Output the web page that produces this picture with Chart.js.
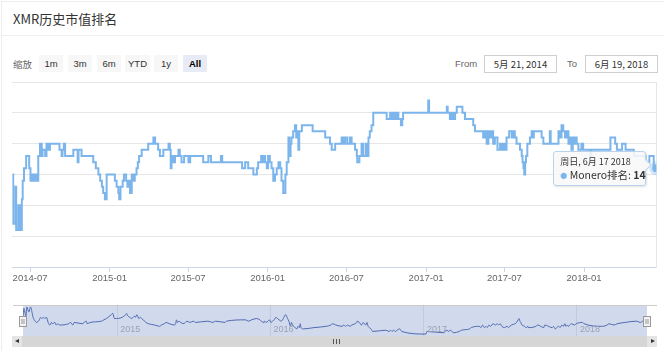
<!DOCTYPE html>
<html>
<head>
<meta charset="utf-8">
<script src="https://cdn.jsdelivr.net/npm/chart.js@4.4.1/dist/chart.umd.min.js"></script>
<style>
body { margin:0; width:664px; height:351px; overflow:hidden; background:#fff; position:relative;
  font-family:"Liberation Sans","Noto Sans CJK SC",Arial,sans-serif; }
.abs { position:absolute; }
#card { left:1px; top:1px; width:663px; height:350px; border-left:1px solid #ededed; border-top:1px solid #ededed; }
#title { left:13px; top:9px; font-size:13px; font-family:"Noto Sans CJK SC",sans-serif; color:#333; line-height:20px; }
#sep { left:2px; top:35px; width:662px; height:1px; background:#efefef; }
.lbl { top:56px; font-size:9.5px; color:#666; line-height:16px; }
.btn { top:55px; height:17px; width:24px; background:#f7f7f7; color:#333; font-size:9.5px; line-height:17px; text-align:center; }
.btn.on { background:#e6ebf5; font-weight:bold; color:#000; }
.inp { top:55px; height:16px; width:71px; border:1px solid #cfcfcf; font-size:9.5px; color:#333; line-height:16px;
  text-align:center; font-family:"Noto Sans CJK SC",sans-serif; }
#tip { position:absolute; display:none; width:93px; height:35px; box-sizing:border-box; padding:4px 0 0 6px;
  background:rgba(248,248,248,0.88); border:1px solid #b9d3ec; border-radius:3px;
  box-shadow:1px 1px 2px rgba(0,0,0,0.12); font-family:"Noto Sans CJK SC",sans-serif; color:#333; }
#tip .t1 { font-size:9px; line-height:12px; white-space:nowrap; }
#tip .t2 { font-size:10.5px; line-height:13px; white-space:nowrap; }
#tip .dot { color:#7cb5ec; font-size:7px; vertical-align:1px; }
#tip:after { content:""; position:absolute; right:-5px; top:9px; width:7px; height:7px; background:rgba(248,248,248,1);
  border-right:1px solid #b9d3ec; border-top:1px solid #b9d3ec; transform:rotate(45deg); }
#scroll { left:12px; top:336px; width:645px; height:11px; background:#d6d6d6; }
.sbtn { top:336px; width:10px; height:11px; background:#e4e4e4; }
.tri { position:absolute; top:3px; width:0; height:0; border-top:2.5px solid transparent; border-bottom:2.5px solid transparent; }
#grip { left:333px; top:339px; width:5px; height:5px; border-left:1px solid #555; border-right:1px solid #555; }
#grip:after { content:""; position:absolute; left:2px; top:0; width:1px; height:5px; background:#555; }
</style>
</head>
<body>
<div id="card" class="abs"></div>
<div id="title" class="abs">XMR历史市值排名</div>
<div id="sep" class="abs"></div>

<div class="abs lbl" style="left:13px;font-family:'Noto Sans CJK SC',sans-serif;">缩放</div>
<div class="abs btn" style="left:39px;">1m</div>
<div class="abs btn" style="left:68px;">3m</div>
<div class="abs btn" style="left:97px;">6m</div>
<div class="abs btn" style="left:125px;width:25px;">YTD</div>
<div class="abs btn" style="left:154px;">1y</div>
<div class="abs btn on" style="left:183px;">All</div>

<div class="abs lbl" style="left:455px;">From</div>
<div class="abs inp" style="left:484px;">5月 21, 2014</div>
<div class="abs lbl" style="left:567px;">To</div>
<div class="abs inp" style="left:585px;">6月 19, 2018</div>

<canvas id="main" class="abs" width="664" height="214" style="left:0;top:76px;"></canvas>
<canvas id="nav" class="abs" width="664" height="36" style="left:0;top:300px;"></canvas>

<div id="scroll" class="abs"></div>
<div class="abs sbtn" style="left:12px;"><div class="tri" style="left:3px;border-right:4px solid #333;"></div></div>
<div class="abs sbtn" style="left:647px;"><div class="tri" style="left:4px;border-left:4px solid #333;"></div></div>
<div id="grip" class="abs"></div>
<div id="tip"></div>

<script>
// Monero market-cap rank, one entry per change of rank
const dates = [
  '2014-05-21','2014-05-23','2014-05-28','2014-05-30','2014-06-04','2014-06-08','2014-06-12','2014-06-14','2014-06-17','2014-06-22','2014-06-29',
  '2014-07-02','2014-07-05','2014-07-09','2014-07-12','2014-07-16','2014-07-20','2014-07-24','2014-07-28','2014-07-30',
  '2014-08-05','2014-08-08','2014-08-12','2014-08-16','2014-09-07','2014-09-12','2014-09-14','2014-09-17','2014-09-20',
  '2014-10-09','2014-10-19','2014-10-21','2014-10-28','2014-11-24','2014-11-30',
  '2014-12-06','2014-12-10','2014-12-14','2014-12-17','2014-12-21','2014-12-25',
  '2015-01-13','2015-01-17','2015-01-21','2015-01-23','2015-01-26','2015-01-31','2015-02-03','2015-02-08','2015-02-11','2015-02-13',
  '2015-02-17','2015-02-21','2015-02-25','2015-02-28','2015-03-04','2015-03-07','2015-03-10','2015-03-16','2015-03-31',
  '2015-04-12','2015-04-16','2015-04-23','2015-04-27','2015-05-05','2015-05-17','2015-05-20','2015-05-22','2015-05-24','2015-05-28',
  '2015-06-01','2015-06-09','2015-06-12','2015-06-16','2015-06-22','2015-07-02','2015-07-06','2015-08-05','2015-08-17','2015-08-23',
  '2015-09-15','2015-09-18','2015-11-03','2015-11-10','2015-11-17','2015-11-29','2015-12-07','2015-12-10','2015-12-17','2015-12-18',
  '2015-12-22','2015-12-26','2015-12-30',
  '2016-01-02','2016-01-06','2016-01-10','2016-01-14','2016-01-18','2016-01-22','2016-01-26','2016-01-30','2016-02-02','2016-02-06',
  '2016-02-11','2016-02-14','2016-02-18','2016-02-20','2016-02-23','2016-02-25','2016-02-29','2016-03-04','2016-03-07','2016-03-10',
  '2016-03-12','2016-03-14','2016-03-20','2016-04-14','2016-05-13','2016-05-24','2016-05-28','2016-06-05','2016-06-20','2016-06-24',
  '2016-06-28','2016-07-03','2016-07-09','2016-07-13','2016-07-21','2016-07-25','2016-07-26','2016-07-31','2016-08-05','2016-08-09',
  '2016-08-15','2016-08-18','2016-08-21','2016-08-24','2016-08-28','2016-09-01','2016-10-02','2016-10-10','2016-10-14','2016-10-17',
  '2016-10-21','2016-10-25','2016-10-29','2016-11-04','2016-11-07','2016-11-09',
  '2017-01-06','2017-01-08','2017-02-18','2017-02-20','2017-02-25','2017-03-01','2017-03-05','2017-03-09','2017-03-13','2017-03-26',
  '2017-04-01','2017-04-20','2017-04-24','2017-05-13','2017-05-17','2017-05-21','2017-05-25','2017-05-29','2017-06-01','2017-06-05',
  '2017-06-09','2017-06-15','2017-06-21','2017-06-25','2017-06-28','2017-07-02','2017-07-06','2017-07-12','2017-07-18','2017-07-22',
  '2017-07-25','2017-07-29','2017-08-06','2017-08-10','2017-08-12','2017-08-14','2017-08-16','2017-08-18','2017-08-20','2017-08-23',
  '2017-08-29','2017-09-02','2017-09-06','2017-09-07','2017-09-25','2017-09-29','2017-10-14','2017-10-16','2017-11-03','2017-11-06',
  '2017-11-10','2017-11-14','2017-11-18','2017-11-22','2017-11-26','2017-11-30','2017-12-03','2017-12-06','2017-12-09','2017-12-11',
  '2017-12-15','2017-12-19','2017-12-26','2017-12-30',
  '2018-01-15','2018-01-18','2018-03-03','2018-03-14','2018-03-18','2018-03-30','2018-04-07','2018-04-26','2018-05-23','2018-06-01',
  '2018-06-11','2018-06-17'
];
const ranks = [
  15,23,17,24,20,24,19,16,14,12,14,
  16,15,16,15,16,12,10,12,11,
  12,10,11,10,11,12,11,10,12,
  11,13,11,12,13,14,
  15,16,17,18,19,15,
  16,17,18,19,17,16,15,16,17,16,
  18,15,16,15,14,13,12,11,10,
  9,10,11,12,11,10,11,14,12,13,
  12,11,12,13,12,13,12,13,12,13,
  12,13,14,13,14,15,14,13,12,13,
  12,13,14,
  12,13,14,16,15,14,13,14,16,18,
  15,13,9,12,10,9,8,7,9,8,
  11,8,7,8,9,10,11,10,9,10,
  9,10,9,10,11,12,13,12,10,12,
  10,12,9,8,7,5,6,5,6,5,
  6,5,6,7,6,5,
  3,5,4,5,6,5,6,5,4,5,
  6,7,8,9,8,10,8,9,8,10,
  9,11,10,11,10,11,9,8,9,8,
  9,10,11,12,13,14,15,13,12,10,
  9,8,9,8,9,10,8,10,8,9,
  7,8,9,8,10,9,11,9,10,9,
  10,11,10,11,
  12,11,9,10,11,10,11,12,13,12,
  14,14
];
const seriesName = 'Monero排名';
const tickDates = ['2014-07-01','2015-01-01','2015-07-01','2016-01-01','2016-07-01','2017-01-01','2017-07-01','2018-01-01'];
const tickLabels = ['2014-07','2015-01','2015-07','2016-01','2016-07','2017-01','2017-07','2018-01'];
const navYearDates = ['2015-01-01','2016-01-01','2017-01-01','2018-01-01'];
const navYearLabels = ['2015','2016','2017','2018'];
const weekdays = ['周日','周一','周二','周三','周四','周五','周六'];

Chart.defaults.font.family = '"Liberation Sans", Arial, sans-serif';

const points = dates.map((d, i) => ({x: Date.parse(d), y: ranks[i]}));
const xMin = points[0].x, xMax = points[points.length - 1].x;

function tipTitle(ms) {
  const t = new Date(ms);
  return weekdays[t.getUTCDay()] + ', ' + (t.getUTCMonth() + 1) + '月 ' + t.getUTCDate() + ' ' + t.getUTCFullYear();
}

function externalTooltip(context) {
  const {chart, tooltip} = context;
  const el = document.getElementById('tip');
  if (tooltip.opacity === 0 || !tooltip.dataPoints || !tooltip.dataPoints.length) { el.style.display = 'none'; return; }
  const dp = tooltip.dataPoints[0];
  el.innerHTML = '<div class="t1">' + tipTitle(dp.parsed.x) + '</div>' +
    '<div class="t2"><span class="dot">●</span> ' + seriesName + ': <b>' + dp.parsed.y + '</b></div>';
  el.style.display = 'block';
  el.style.left = (chart.canvas.offsetLeft + tooltip.caretX - 10 - 93) + 'px';
  el.style.top = (chart.canvas.offsetTop + tooltip.caretY - 17) + 'px';
}

const mainChart = new Chart(document.getElementById('main'), {
  type: 'line',
  data: {
    datasets: [{
      label: seriesName,
      data: points,
      borderColor: '#7cb5ec',
      borderWidth: 2,
      stepped: true,
      pointRadius: 0,
      pointHoverRadius: 4,
      pointHoverBackgroundColor: '#7cb5ec',
      pointHoverBorderColor: 'rgba(124,181,236,0.35)',
      pointHoverBorderWidth: 6,
      fill: false
    }]
  },
  options: {
    responsive: false,
    animation: false,
    events: [],
    layout: {padding: {left: 12.3, right: 7.7, top: 6, bottom: 0}},
    plugins: {
      legend: {display: false},
      tooltip: {enabled: false, external: externalTooltip, position: 'nearest'}
    },
    scales: {
      x: {
        type: 'linear',
        min: xMin,
        max: xMax,
        afterBuildTicks: s => { s.ticks = tickDates.map(d => ({value: Date.parse(d)})); },
        afterFit: s => { s.height = 23; },
        ticks: {
          autoSkip: false, maxRotation: 0, padding: 1,
          color: '#666', font: {size: 9.5},
          callback: (v, i) => tickLabels[i]
        },
        grid: {drawOnChartArea: false, tickLength: 5, tickColor: '#ccd6eb'},
        border: {color: '#ccd6eb'}
      },
      y: {
        min: 0, max: 30, reverse: true,
        afterFit: s => { s.width = 0; },
        ticks: {display: false, stepSize: 5},
        grid: {color: '#e6e6e6', drawTicks: false},
        border: {display: false}
      },
      yr: {
        position: 'right', min: 0, max: 1,
        afterFit: s => { s.width = 0; },
        ticks: {display: false},
        grid: {display: false, drawTicks: false},
        border: {color: '#e6e6e6'}
      }
    }
  }
});

const last = points.length - 1;
mainChart.setActiveElements([{datasetIndex: 0, index: last}]);
mainChart.update();
const pt = mainChart.getDatasetMeta(0).data[last];
mainChart.tooltip.setActiveElements([{datasetIndex: 0, index: last}], {x: pt.x, y: pt.y});
mainChart.update();

// navigator: mask, outline, year labels, handles
const navDecor = {
  id: 'navDecor',
  beforeDraw(chart) {
    const {ctx, chartArea: a} = chart;
    ctx.save();
    ctx.fillStyle = 'rgba(102,133,194,0.3)';
    ctx.fillRect(a.left, a.top, a.right - a.left, a.bottom - a.top);
    ctx.strokeStyle = '#cccccc';
    ctx.lineWidth = 1;
    ctx.beginPath();
    ctx.moveTo(13, a.top + 0.5);
    ctx.lineTo(657, a.top + 0.5);
    ctx.stroke();
    ctx.restore();
  },
  afterDraw(chart) {
    const {ctx, chartArea: a} = chart;
    const xs = chart.scales.x;
    ctx.save();
    ctx.fillStyle = '#9aa2b4';
    ctx.font = '9px "Liberation Sans", Arial, sans-serif';
    ctx.textBaseline = 'middle';
    navYearDates.forEach((d, i) => {
      ctx.fillText(navYearLabels[i], xs.getPixelForValue(Date.parse(d)) + 3, 30);
    });
    [a.left, a.right].forEach(x => {
      const hx = Math.round(x) - 3.5;
      ctx.fillStyle = '#f2f2f2';
      ctx.strokeStyle = '#999';
      ctx.fillRect(hx, 16.5, 7, 10);
      ctx.strokeRect(hx, 16.5, 7, 10);
      ctx.beginPath();
      ctx.moveTo(hx + 2.5, 19); ctx.lineTo(hx + 2.5, 24);
      ctx.moveTo(hx + 4.5, 19); ctx.lineTo(hx + 4.5, 24);
      ctx.stroke();
    });
    ctx.restore();
  }
};

new Chart(document.getElementById('nav'), {
  type: 'line',
  data: {
    datasets: [{
      data: points,
      borderColor: '#5069af',
      borderWidth: 1,
      pointRadius: 0,
      cubicInterpolationMode: 'monotone',
      fill: false
    }]
  },
  options: {
    responsive: false,
    animation: false,
    events: [],
    layout: {padding: {left: 23, right: 17, top: 5, bottom: 0}},
    plugins: {legend: {display: false}, tooltip: {enabled: false}},
    scales: {
      x: {
        type: 'linear', min: xMin, max: xMax,
        afterBuildTicks: s => { s.ticks = navYearDates.map(d => ({value: Date.parse(d)})); },
        afterFit: s => { s.height = 0; },
        ticks: {display: false},
        grid: {color: 'rgba(0,0,0,0.07)', drawTicks: false},
        border: {display: false}
      },
      y: {display: false, min: 1.5, max: 25.5}
    }
  },
  plugins: [navDecor]
});
</script>
</body>
</html>
